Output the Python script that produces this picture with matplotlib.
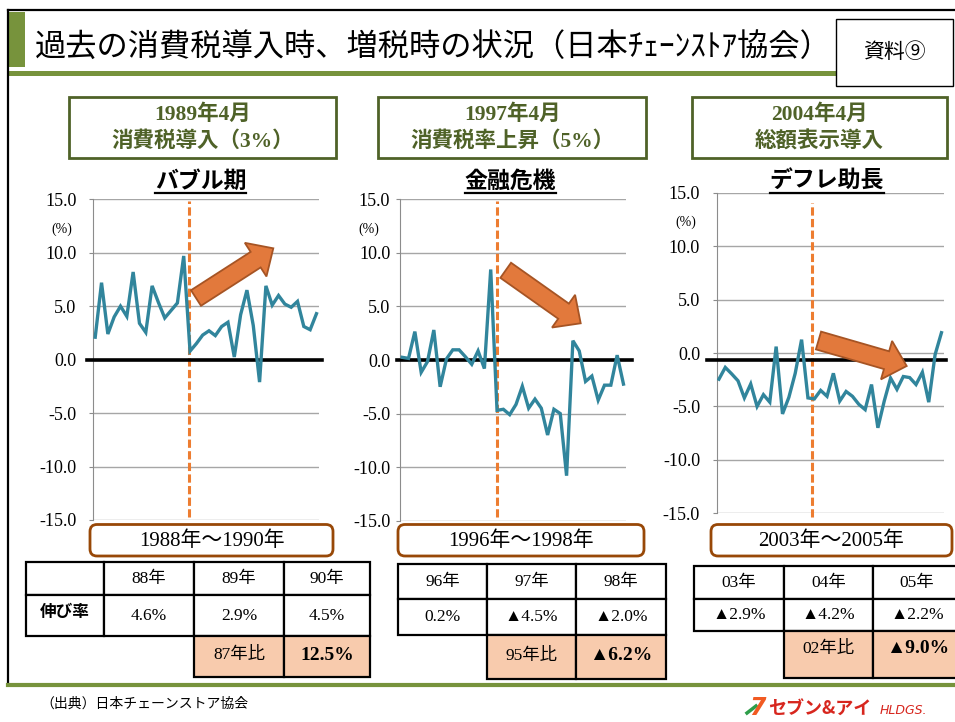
import numpy as np
import matplotlib
matplotlib.use("Agg")
import matplotlib.pyplot as plt
from matplotlib.patches import Rectangle, FancyBboxPatch, FancyArrow
from matplotlib.transforms import blended_transform_factory

JP = "Noto Sans CJK JP"
SERIF = ["Liberation Serif", "Noto Sans CJK JP", "DejaVu Sans"]
plt.rcParams["font.family"] = [JP, "DejaVu Sans"]

# monthly sales, year-on-year change (%), 36 months per period
bubble = [2.1, 7.2, 2.4, 4.0, 5.0, 4.05, 8.2, 3.4, 2.55, 6.9, 5.35, 3.9,
          4.6, 5.3, 9.7, 0.8, 1.5, 2.3, 2.7, 2.25, 3.1, 3.5, 0.25, 4.2,
          6.5, 3.2, -2.1, 6.9, 5.1, 6.0, 5.2, 4.9, 5.45, 3.1, 2.8, 4.3]
crisis = [0.25, 0.15, 2.65, -1.15, -0.15, 2.8, -2.5, 0.1, 0.95, 0.95, 0.3, -0.4,
          0.85, -0.8, 8.45, -4.7, -4.6, -5.1, -4.15, -2.45, -4.5, -3.65, -4.5, -7.0,
          -4.6, -5.0, -10.8, 1.8, 0.85, -2.0, -1.5, -3.75, -2.35, -2.35, 0.45, -2.25]
deflation = [-2.45, -1.35, -1.95, -2.6, -4.2, -2.9, -5.0, -3.9, -4.6, 0.6, -5.7, -4.15,
             -1.9, 1.25, -4.2, -4.3, -3.5, -4.05, -1.9, -4.5, -3.6, -4.05, -4.8, -5.3,
             -2.95, -7.0, -4.5, -2.35, -3.4, -2.2, -2.3, -2.95, -1.8, -4.6, -0.15, 1.9]
series = [bubble, crisis, deflation]

yticks = [15, 10, 5, 0, -5, -10, -15]
events = ["1989年4月\n消費税導入（3%）", "1997年4月\n消費税率上昇（5%）", "2004年4月\n総額表示導入"]
phases = ["バブル期", "金融危機", "デフレ助長"]
periods = ["1988年～1990年", "1996年～1998年", "2003年～2005年"]

years = [["88年", "89年", "90年"], ["96年", "97年", "98年"], ["03年", "04年", "05年"]]
growth = [["4.6%", "2.9%", "4.5%"], ["0.2%", "▲4.5%", "▲2.0%"], ["▲2.9%", "▲4.2%", "▲2.2%"]]
base_label = ["87年比", "95年比", "02年比"]
base_value = ["12.5%", "▲6.2%", "▲9.0%"]

title = "過去の消費税導入時、増税時の状況（日本ﾁｪｰﾝｽﾄｱ協会）"

TEAL = "#31859C"
ORANGE = "#ED7D31"
OLIVE = "#77933C"
DARKOLIVE = "#4F6228"
BROWN = "#984807"
PEACH = "#F8CBAD"

W, H = 955, 722
fig = plt.figure(figsize=(W / 100, H / 100), dpi=100)
fig.patch.set_facecolor("white")

# layout in pixels: left, right, top, bottom of plot area
boxes = [(93, 319, 199.3, 520), (400, 626, 199.3, 520.7), (716.7, 944, 192.7, 513.3)]
event_x = [14.9, 15.05, 14.7]
dash_span = [(0.01, 0.995), (0.01, 0.995), (-0.012, 0.969)]
black_y = [0.0, 0.0, -0.65]
black_x = [(-0.028, 1.012), (-0.013, 1.025), (-0.044, 1.009)]
label_pad = [9, 4, 9]

axes = []
for i, (l, r, t, b) in enumerate(boxes):
    ax = fig.add_axes([l / W, 1 - b / H, (r - l) / W, (b - t) / H])
    ax.set_facecolor("none")
    x = np.arange(len(series[i]))
    ax.plot(x, series[i], color=TEAL, lw=2.4, zorder=4, solid_joinstyle="miter")
    ax.set_xlim(-0.35, 35.4)
    ax.set_ylim(-15, 15)
    ax.set_yticks(yticks)
    ax.set_yticklabels([f"{v:.1f}" for v in yticks], family=SERIF, fontsize=13)
    ax.set_xticks([])
    ax.grid(axis="y", color="#A6A6A6", lw=1.0)
    for s in ["top", "right", "bottom"]:
        ax.spines[s].set_visible(False)
    ax.spines["left"].set_color("#8C8C8C")
    ax.tick_params(axis="y", length=3, color="#8C8C8C", pad=label_pad[i])
    ax.axvline(event_x[i], ymin=dash_span[i][0], ymax=dash_span[i][1], color=ORANGE,
               lw=2.2, ls=(0, (2.7, 1.1)), clip_on=False, zorder=3)
    tr = blended_transform_factory(ax.transAxes, ax.transData)
    ax.plot(black_x[i], [black_y[i]] * 2, color="black", lw=2.6, transform=tr,
            clip_on=False, zorder=3)
    axes.append(ax)

# overlay in pixel coordinates for the slide decoration
deco = fig.add_axes([0, 0, 1, 1])
deco.set_xlim(0, W)
deco.set_ylim(H, 0)
deco.axis("off")
deco.set_zorder(10)

for i, (l, r, t, b) in enumerate(boxes):
    deco.text(l - 31, t + 30, "(%)", family=SERIF, fontsize=10, ha="center", va="center")

# frame and title bar
deco.plot([8, W], [10, 10], color="black", lw=1.6)
deco.plot([8, 8], [10, 685], color="black", lw=1.6)
deco.add_patch(Rectangle((9, 11.7), 16, 55, fc=OLIVE, ec="none"))
deco.add_patch(Rectangle((9, 70.7), 827, 5.5, fc=OLIVE, ec="none"))
deco.text(35, 47, title, fontsize=22.5, ha="left", va="center")
deco.add_patch(Rectangle((836, 19), 117, 67, fc="white", ec="black", lw=1.0))
deco.text(894, 52, "資料⑨", fontsize=15, ha="center", va="center")

# event boxes
head_boxes = [(69.3, 336), (378.3, 646), (691.7, 946.5)]
for (x0, x1), txt in zip(head_boxes, events):
    deco.add_patch(Rectangle((x0, 96.5), x1 - x0, 61, fc="white", ec=DARKOLIVE, lw=2.0))
    deco.text((x0 + x1) / 2, 128.5, txt, family=SERIF, fontsize=15.5, weight="bold",
              color=DARKOLIVE, ha="center", va="center", linespacing=1.4)

# phase subtitles with underline
phase_x = [200.5, 510.5, 827]
phase_txt = []
for cx, txt in zip(phase_x, phases):
    phase_txt.append(deco.text(cx, 181.5, txt, fontsize=16.5, weight="bold",
                               ha="center", va="center"))

# trend arrows
arrows = [((196, 298), (273.3, 248.3)), ((505.7, 270.3), (580.7, 323.3)),
          ((818.5, 340.5), (906.7, 366))]
for (x0, y0), (x1, y1) in arrows:
    deco.add_patch(FancyArrow(x0, y0, x1 - x0, y1 - y0, width=18.5, head_width=40,
                              head_length=21, length_includes_head=True,
                              fc="#E2793C", ec="#A65424", lw=1.3, zorder=5))

# period boxes
period_boxes = [(90, 333), (398, 644), (711, 952)]
for (x0, x1), txt in zip(period_boxes, periods):
    deco.add_patch(FancyBboxPatch((x0, 524.5), x1 - x0, 31.5,
                                  boxstyle="round,pad=0,rounding_size=7",
                                  fc="white", ec=BROWN, lw=2.0))
    deco.text((x0 + x1) / 2, 541, txt, family=SERIF, fontsize=15, ha="center", va="center")

# tables
tables = [
    ([25.6, 103.5, 193.7, 284.4, 369.7], [562, 595, 636, 677]),
    ([397.7, 487.2, 576.1, 665.7], [564, 599.3, 635, 678.7]),
    ([694.3, 783.8, 872.7, 961.6], [566, 599, 631, 678]),
]
for k, (cols, rows) in enumerate(tables):
    first = 1 if len(cols) == 5 else 0
    for r in range(2):
        for c in range(len(cols) - 1):
            deco.add_patch(Rectangle((cols[c], rows[r]), cols[c + 1] - cols[c],
                                     rows[r + 1] - rows[r], fc="white", ec="black", lw=1.6))
    for c in range(len(cols) - 3, len(cols) - 1):
        deco.add_patch(Rectangle((cols[c], rows[2]), cols[c + 1] - cols[c],
                                 rows[3] - rows[2], fc=PEACH, ec="black", lw=1.6))
    ymid = [(rows[j] + rows[j + 1]) / 2 for j in range(3)]
    if first:
        deco.text((cols[0] + cols[1]) / 2, ymid[1] - 3, "伸び率", fontsize=12,
                  weight="bold", ha="center", va="center")
    for j in range(3):
        cx = (cols[first + j] + cols[first + j + 1]) / 2
        deco.text(cx, ymid[0], years[k][j], family=SERIF, fontsize=12.5, ha="center", va="center")
        deco.text(cx, ymid[1], growth[k][j], family=SERIF, fontsize=12.5, ha="center", va="center")
    shift = -6 if k == 2 else -1
    c0 = len(cols) - 3
    deco.text((cols[c0] + cols[c0 + 1]) / 2, ymid[2] + shift, base_label[k], family=SERIF,
              fontsize=12.5, ha="center", va="center")
    deco.text((cols[c0 + 1] + cols[c0 + 2]) / 2, ymid[2] + shift, base_value[k], family=SERIF,
              fontsize=14, weight="bold", ha="center", va="center")

# footer
deco.plot([8, W], [685, 685], color=OLIVE, lw=3)
deco.text(40, 704, "（出典）日本チェーンストア協会", fontsize=10, ha="left", va="center")
deco.text(757, 708, "7", fontsize=17, weight="bold", style="italic", color="#F15A22",
          family="DejaVu Sans", ha="center", va="center")
deco.plot([747, 756], [713, 706], color="#2E9E4A", lw=2.5)
deco.text(768, 709, "セブン&アイ", fontsize=13, weight="bold", color="#D7261E",
          ha="left", va="center")
deco.text(880, 711, "HLDGS.", fontsize=9, style="italic", color="#D7261E",
          family="DejaVu Sans", ha="left", va="center")

# underline subtitles using their rendered width
fig.canvas.draw()
inv = deco.transData.inverted()
for t in phase_txt:
    bb = t.get_window_extent()
    (xa, _), (xb, _) = inv.transform([(bb.x0, bb.y0), (bb.x1, bb.y0)])
    deco.plot([xa, xb], [192.5, 192.5], color="black", lw=1.6)

fig.savefig("out.png", dpi=100)
